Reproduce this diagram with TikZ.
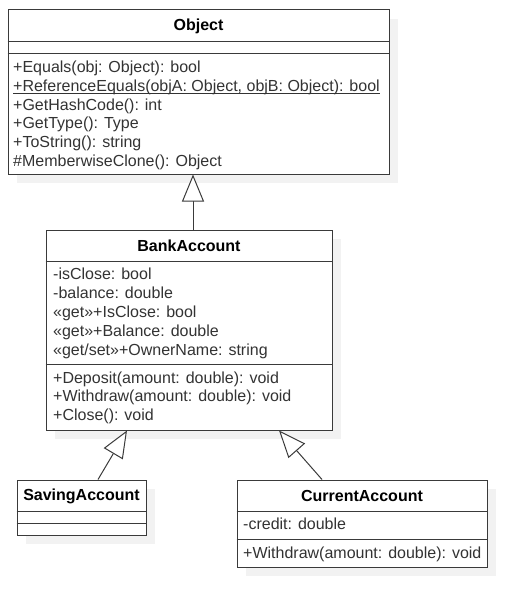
\documentclass[tikz,border=0pt]{standalone}
\usepackage{fontspec}
\setmainfont{Liberation Sans}
\usetikzlibrary{arrows.meta,positioning,shadows}
\definecolor{linegray}{HTML}{3A3A3A}
\definecolor{textgray}{HTML}{333333}
\definecolor{shadowgray}{HTML}{F2F2F2}
\begin{document}
\begin{tikzpicture}[x=1pt,y=-1pt,
    font=\fontsize{16}{19}\selectfont,
    classbox/.style={draw=linegray, line width=1pt, fill=white, inner sep=0pt,
        drop shadow={shadow xshift=9pt, shadow yshift=-9pt, fill=shadowgray, opacity=1}},
    title/.style={font=\fontsize{16}{19}\selectfont\bfseries, inner sep=0pt},
    member/.style={anchor=west, inner sep=0pt, text=textgray, text height=11.5pt, text depth=0pt},
    sep/.style={draw=linegray, line width=1pt},
    extends/.style={draw=linegray, line width=1pt, -{Triangle[open, length=27pt, width=22pt, fill=white]}}]
                    \useasboundingbox (0,0) rectangle (507,594);
                    \node[classbox, minimum width=381pt, minimum height=164pt] (object) at (198.5,92) {};
                    \node[classbox, minimum width=286pt, minimum height=200pt] (bank) at (189,330) {};
                    \node[classbox, minimum width=129pt, minimum height=55pt] (saving) at (81.5,507.5) {};
                    \node[classbox, minimum width=250pt, minimum height=87pt] (current) at (362,523.5) {};
                    \node[title] (objecttitle) at (198.5,26.5) {Object};
                    \node[title] (banktitle) at (189,246) {BankAccount};
                    \node[title] (savingtitle) at (81.5,496) {SavingAccount};
                    \node[title] (currenttitle) at (362,496) {CurrentAccount};
                    \draw[sep] (object.west |- 0,42) -- (object.east |- 0,42);
                    \draw[sep] (object.west |- 0,54) -- (object.east |- 0,54);
                    \draw[sep] (bank.west |- 0,261) -- (bank.east |- 0,261);
                    \draw[sep] (bank.west |- 0,364) -- (bank.east |- 0,364);
                    \draw[sep] (saving.west |- 0,511) -- (saving.east |- 0,511);
                    \draw[sep] (saving.west |- 0,523) -- (saving.east |- 0,523);
                    \draw[sep] (current.west |- 0,511) -- (current.east |- 0,511);
                    \draw[sep] (current.west |- 0,539) -- (current.east |- 0,539);
                    \node[member] (equals) at (13,66.5) {+Equals(obj: Object): bool};
                    \node[member] (refequals) at (13,85.4) {+ReferenceEquals(objA: Object, objB: Object): bool};
                    \draw[textgray, line width=0.8pt] ([yshift=-2.6pt]refequals.base west) -- ([yshift=-2.6pt]refequals.base east);
                    \node[member] (hashcode) at (13,104.3) {+GetHashCode(): int};
                    \node[member] (gettype) at (13,123.2) {+GetType(): Type};
                    \node[member] (tostring) at (13,142.1) {+ToString(): string};
                    \node[member] (clone) at (13,161) {\#MemberwiseClone(): Object};
                    \node[member] (isclose) at (53,274) {-isClose: bool};
                    \node[member] (balance) at (53,292.9) {-balance: double};
                    \node[member] (isclosep) at (53,311.8) {«get»+IsClose: bool};
                    \node[member] (balancep) at (53,330.7) {«get»+Balance: double};
                    \node[member] (ownername) at (53,349.6) {«get/set»+OwnerName: string};
                    \node[member] (deposit) at (53,377.3) {+Deposit(amount: double): void};
                    \node[member] (withdraw) at (53,396.2) {+Withdraw(amount: double): void};
                    \node[member] (close) at (53,415.1) {+Close(): void};
                    \node[member] (credit) at (243,524) {-credit: double};
                    \node[member] (withdrawc) at (243,552.7) {+Withdraw(amount: double): void};
                    \draw[extends] (bank.north -| 193,0) -- (object.south -| 193,0);
                    \draw[extends] (saving.north -| 98,0) -- (bank.south -| 127,0);
                    \draw[extends] (current.north -| 322,0) -- (bank.south -| 279,0);
                \end{tikzpicture}
\end{document}
